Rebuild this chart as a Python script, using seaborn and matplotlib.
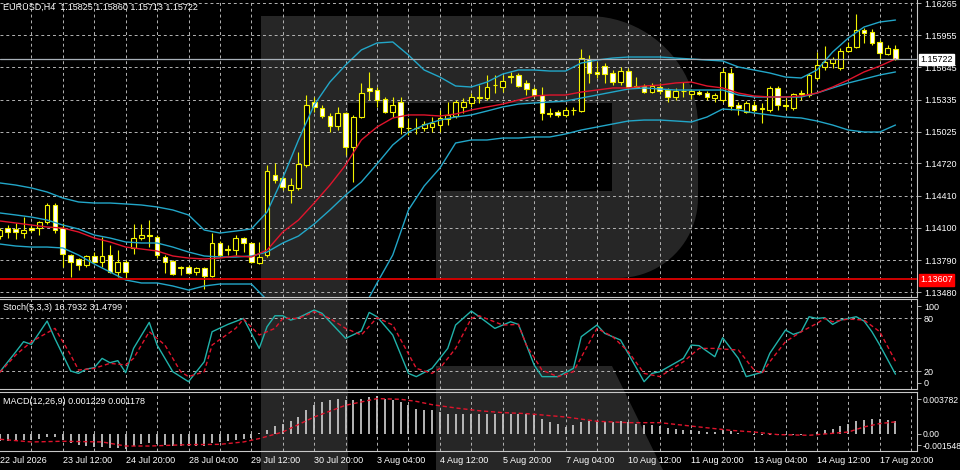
import numpy as np
import pandas as pd
import seaborn as sns
import matplotlib.pyplot as plt
from matplotlib.patches import Polygon

# ---------------- data ----------------
price_ticks = [1.16265, 1.15955, 1.15645, 1.15335, 1.15025, 1.14720, 1.14410, 1.14100, 1.13790, 1.13480]
x_labels = ['22 Jul 2026', '23 Jul 12:00', '24 Jul 20:00', '28 Jul 04:00', '29 Jul 12:00',
            '30 Jul 20:00', '3 Aug 04:00', '4 Aug 12:00', '5 Aug 20:00', '7 Aug 04:00',
            '10 Aug 12:00', '11 Aug 20:00', '13 Aug 04:00', '14 Aug 12:00', '17 Aug 20:00']

opens = [1.14021, 1.14098, 1.14089, 1.14050, 1.14098, 1.14098, 1.14156, 1.14320, 1.14098, 1.13838,
         1.13800, 1.13742, 1.13829, 1.13771, 1.13838, 1.13675, 1.13771, 1.13906, 1.14002, 1.14031,
         1.14012, 1.13819, 1.13781, 1.13713, 1.13723, 1.13675, 1.13713, 1.13636, 1.13954, 1.13896,
         1.13886, 1.14002, 1.13954, 1.13761, 1.13838, 1.14609, 1.14580, 1.14464, 1.14484, 1.14705,
         1.15312, 1.15254, 1.15177, 1.15081, 1.15206, 1.14878, 1.15167, 1.15447, 1.15427, 1.15341,
         1.15215, 1.15312, 1.15061, 1.15061, 1.15061, 1.15071, 1.15090, 1.15148, 1.15177, 1.15264,
         1.15302, 1.15360, 1.15350, 1.15475, 1.15456, 1.15562, 1.15572, 1.15495, 1.15437, 1.15379,
         1.15206, 1.15215, 1.15187, 1.15235, 1.15225, 1.15726, 1.15601, 1.15658, 1.15591, 1.15504,
         1.15610, 1.15466, 1.15466, 1.15408, 1.15456, 1.15427, 1.15360, 1.15418, 1.15389, 1.15408,
         1.15398, 1.15350, 1.15331, 1.15591, 1.15283, 1.15215, 1.15283, 1.15254, 1.15235, 1.15447,
         1.15283, 1.15254, 1.15389, 1.15379, 1.15543, 1.15649, 1.15687, 1.15639, 1.15803, 1.15841,
         1.16005, 1.15986, 1.15890, 1.15774, 1.15825]
highs = [1.14098, 1.14127, 1.14147, 1.14204, 1.14118, 1.14166, 1.14339, 1.14339, 1.14147, 1.13848,
         1.13809, 1.13838, 1.13867, 1.14012, 1.13935, 1.13886, 1.13790, 1.14137, 1.14137, 1.14175,
         1.14031, 1.13838, 1.13790, 1.13732, 1.13742, 1.13723, 1.13723, 1.14050, 1.13973, 1.13935,
         1.14031, 1.14012, 1.13964, 1.13964, 1.14705, 1.14724, 1.14609, 1.14580, 1.14830, 1.15379,
         1.15360, 1.15283, 1.15206, 1.15264, 1.15215, 1.15187, 1.15495, 1.15601, 1.15456, 1.15360,
         1.15360, 1.15360, 1.15158, 1.15158, 1.15129, 1.15167, 1.15235, 1.15312, 1.15331, 1.15350,
         1.15398, 1.15475, 1.15572, 1.15572, 1.15572, 1.15601, 1.15591, 1.15524, 1.15456, 1.15456,
         1.15254, 1.15235, 1.15264, 1.15264, 1.15822, 1.15764, 1.15697, 1.15687, 1.15620, 1.15649,
         1.15639, 1.15552, 1.15485, 1.15495, 1.15495, 1.15447, 1.15447, 1.15504, 1.15437, 1.15427,
         1.15418, 1.15398, 1.15639, 1.15639, 1.15312, 1.15321, 1.15321, 1.15302, 1.15466, 1.15466,
         1.15350, 1.15398, 1.15427, 1.15591, 1.15793, 1.15851, 1.15745, 1.15832, 1.15890, 1.16159,
         1.16024, 1.16015, 1.15909, 1.15861, 1.15860]
lows = [1.13992, 1.14002, 1.13992, 1.14002, 1.14060, 1.14031, 1.14137, 1.14050, 1.13723, 1.13626,
        1.13694, 1.13723, 1.13761, 1.13723, 1.13665, 1.13626, 1.13617, 1.13848, 1.13983, 1.13915,
        1.13809, 1.13665, 1.13646, 1.13646, 1.13655, 1.13646, 1.13511, 1.13626, 1.13819, 1.13838,
        1.13838, 1.13867, 1.13761, 1.13752, 1.13819, 1.14532, 1.14464, 1.14339, 1.14464, 1.14686,
        1.15215, 1.15158, 1.15023, 1.15042, 1.14801, 1.14541, 1.15158, 1.15331, 1.15264, 1.15206,
        1.15167, 1.15004, 1.14994, 1.15004, 1.15032, 1.15023, 1.15023, 1.15090, 1.15158, 1.15206,
        1.15264, 1.15302, 1.15331, 1.15398, 1.15408, 1.15495, 1.15456, 1.15379, 1.15360, 1.15138,
        1.15167, 1.15167, 1.15167, 1.15187, 1.15215, 1.15495, 1.15543, 1.15495, 1.15475, 1.15475,
        1.15437, 1.15447, 1.15398, 1.15398, 1.15389, 1.15312, 1.15331, 1.15360, 1.15341, 1.15379,
        1.15331, 1.15312, 1.15312, 1.15235, 1.15187, 1.15206, 1.15215, 1.15110, 1.15215, 1.15235,
        1.15235, 1.15235, 1.15331, 1.15360, 1.15524, 1.15620, 1.15639, 1.15620, 1.15793, 1.15832,
        1.15880, 1.15861, 1.15716, 1.15764, 1.15713]
closes = [1.14079, 1.14060, 1.14060, 1.14079, 1.14079, 1.14156, 1.14320, 1.14079, 1.13848, 1.13771,
          1.13742, 1.13829, 1.13771, 1.13829, 1.13675, 1.13771, 1.13675, 1.14002, 1.14031, 1.14021,
          1.13838, 1.13771, 1.13655, 1.13723, 1.13665, 1.13713, 1.13636, 1.13954, 1.13838, 1.13886,
          1.14002, 1.13954, 1.13771, 1.13819, 1.14647, 1.14561, 1.14493, 1.14512, 1.14715, 1.15283,
          1.15264, 1.15177, 1.15081, 1.15206, 1.14878, 1.15167, 1.15398, 1.15418, 1.15331, 1.15215,
          1.15283, 1.15071, 1.15066, 1.15057, 1.15100, 1.15110, 1.15158, 1.15187, 1.15312, 1.15312,
          1.15360, 1.15355, 1.15456, 1.15471, 1.15514, 1.15557, 1.15466, 1.15437, 1.15379, 1.15206,
          1.15201, 1.15187, 1.15235, 1.15230, 1.15735, 1.15591, 1.15581, 1.15581, 1.15504, 1.15610,
          1.15456, 1.15461, 1.15408, 1.15466, 1.15418, 1.15360, 1.15418, 1.15413, 1.15418, 1.15389,
          1.15360, 1.15379, 1.15601, 1.15273, 1.15254, 1.15302, 1.15235, 1.15249, 1.15447, 1.15283,
          1.15278, 1.15389, 1.15398, 1.15572, 1.15668, 1.15697, 1.15726, 1.15803, 1.15841, 1.16005,
          1.15976, 1.15880, 1.15784, 1.15832, 1.15722]

# bollinger bands + red MA, read at every second bar
band_bars = list(range(0, 115, 2))
bb_upper = [1.14532, 1.14512, 1.14484, 1.14445, 1.14387, 1.14349, 1.14339, 1.14339, 1.14330, 1.14320,
            1.14301, 1.14272, 1.14224, 1.14079, 1.14050, 1.14069, 1.14089, 1.14252, 1.14580, 1.14946,
            1.15283, 1.15504, 1.15668, 1.15813, 1.15880, 1.15890, 1.15764, 1.15620, 1.15552, 1.15466,
            1.15456, 1.15504, 1.15581, 1.15620, 1.15620, 1.15610, 1.15610, 1.15687, 1.15716, 1.15735,
            1.15745, 1.15745, 1.15745, 1.15735, 1.15726, 1.15716, 1.15707, 1.15649, 1.15620, 1.15591,
            1.15552, 1.15543, 1.15620, 1.15793, 1.15928, 1.16034, 1.16082, 1.16101]
bb_middle = [1.14243, 1.14224, 1.14204, 1.14175, 1.14127, 1.14089, 1.14031, 1.14002, 1.13964, 1.13954,
             1.13954, 1.13915, 1.13867, 1.13829, 1.13819, 1.13819, 1.13829, 1.13867, 1.13954, 1.14021,
             1.14137, 1.14272, 1.14416, 1.14541, 1.14715, 1.14898, 1.15023, 1.15090, 1.15138, 1.15167,
             1.15187, 1.15225, 1.15264, 1.15292, 1.15302, 1.15312, 1.15321, 1.15350, 1.15379, 1.15408,
             1.15437, 1.15447, 1.15437, 1.15427, 1.15427, 1.15427, 1.15427, 1.15379, 1.15360, 1.15360,
             1.15360, 1.15360, 1.15398, 1.15447, 1.15495, 1.15533, 1.15572, 1.15601]
bb_lower = [1.13944, 1.13925, 1.13915, 1.13915, 1.13906, 1.13838, 1.13752, 1.13675, 1.13598, 1.13569,
            1.13569, 1.13540, 1.13501, 1.13540, 1.13559, 1.13559, 1.13559, 1.13405, 1.13232, 1.13097,
            1.13001, 1.13001, 1.13068, 1.13290, 1.13569, 1.13838, 1.14272, 1.14503, 1.14675, 1.14917,
            1.14946, 1.14946, 1.14965, 1.14965, 1.14975, 1.14975, 1.15004, 1.15042, 1.15071, 1.15100,
            1.15129, 1.15138, 1.15138, 1.15129, 1.15119, 1.15167, 1.15244, 1.15235, 1.15206, 1.15187,
            1.15167, 1.15158, 1.15129, 1.15090, 1.15042, 1.15023, 1.15023, 1.15090]
ma_red = [1.14166, 1.14147, 1.14127, 1.14108, 1.14098, 1.14060, 1.14002, 1.13964, 1.13915, 1.13896,
          1.13877, 1.13829, 1.13809, 1.13800, 1.13809, 1.13829, 1.13819, 1.13886, 1.14060, 1.14175,
          1.14339, 1.14512, 1.14705, 1.14946, 1.15071, 1.15158, 1.15187, 1.15187, 1.15177, 1.15196,
          1.15235, 1.15264, 1.15292, 1.15331, 1.15370, 1.15379, 1.15379, 1.15408, 1.15427, 1.15447,
          1.15447, 1.15466, 1.15475, 1.15495, 1.15504, 1.15466, 1.15447, 1.15398, 1.15370, 1.15360,
          1.15360, 1.15370, 1.15398, 1.15456, 1.15524, 1.15601, 1.15658, 1.15726]

bid_price = 1.15722
hline_price = 1.13607

# stochastic (5,3,3)
stoch_bars = [0, 2, 3, 4, 6, 7, 9, 10, 11, 12, 13, 14, 15, 16, 17, 19, 20, 22, 24, 26,
              27, 29, 31, 33, 34, 35, 36, 37, 38, 40, 41, 42, 44, 46, 47, 48, 50, 52, 53, 55,
              57, 58, 60, 61, 63, 65, 66, 68, 69, 71, 73, 74, 76, 77, 79, 82, 83, 84, 87, 88,
              89, 91, 92, 94, 95, 97, 98, 100, 101, 102, 103, 104, 105, 106, 107, 109, 110, 111, 112, 114]
stoch_main = [19.6, 42, 53.6, 50.6, 77, 57, 20.4, 17.7, 22.6, 24.2, 34.7, 29.8, 32.1, 18.5, 46, 75.5, 49.8, 19.6, 8.3, 30.9,
              64.9, 73.2, 80, 46, 70.6, 83, 83, 78.1, 80.8, 89.5, 85.7, 76.2, 57.4, 65.7, 86.8, 81.9, 61.2, 17.7, 14, 23.4,
              46, 72.5, 88.3, 82, 68.7, 76.2, 73.2, 27.2, 14, 14, 23.4, 59.3, 72.5, 63, 55.5, 8.3, 17.7, 19.6, 34.7, 49.8,
              49.1, 36.6, 58.1, 34.7, 14, 18.9, 40.4, 66.8, 61.9, 64.9, 81.9, 80, 80.8, 73.2, 78.1, 81.9, 77, 64.9, 49.8, 16.8]
sig_bars = [0, 2, 4, 7, 9, 10, 12, 14, 16, 17, 19, 21, 23, 24, 26, 27, 30, 31, 33, 35,
            36, 38, 40, 42, 44, 46, 48, 50, 53, 55, 56, 58, 60, 61, 64, 66, 67, 69, 71, 73,
            76, 78, 80, 82, 84, 87, 89, 91, 92, 94, 96, 97, 98, 100, 102, 104, 105, 106, 108, 110, 112, 114]
stoch_signal = [18.9, 38.5, 53.6, 68.7, 38.5, 21.5, 23.4, 29.1, 27.2, 34.7, 64.9, 49.8, 19.6, 14, 19.6, 49.8, 68.7, 79.3, 61.2, 68.7,
                80, 80, 87.6, 80, 68.7, 61.2, 80.8, 72.5, 23.4, 17.7, 23.4, 46, 80, 83, 72.5, 73.2, 49.8, 21.5, 14, 19.6,
                68.7, 59.3, 42.3, 17.7, 14, 30.9, 46, 46, 45.3, 44.2, 21.5, 17.7, 30.9, 53.6, 64.9, 74.4, 80, 76.2, 79.3, 78.1, 64.9, 31.5]

# MACD (12,26,9)
macd_hist = [-0.0007, -0.0007, -0.0007, -0.0006, -0.0006, -0.0005, -0.0003, -0.0003, -0.0006, -0.0009,
             -0.0011, -0.0012, -0.0013, -0.0013, -0.0014, -0.0014, -0.0015, -0.0012, -0.0010, -0.0009,
             -0.0010, -0.0011, -0.0012, -0.0012, -0.0012, -0.0012, -0.0012, -0.0009, -0.0008, -0.0007,
             -0.0006, -0.0005, -0.0004, 0.0001, 0.00033, 0.00076, 0.00101, 0.00124, 0.00167, 0.00234,
             0.00285, 0.00318, 0.00335, 0.00352, 0.00335, 0.00335, 0.00352, 0.00368, 0.00378, 0.00352,
             0.00335, 0.00318, 0.00285, 0.00252, 0.00234, 0.00234, 0.00217, 0.00201, 0.00201, 0.00201,
             0.00201, 0.00201, 0.00201, 0.00201, 0.00201, 0.00201, 0.00201, 0.00195, 0.00184, 0.00144,
             0.00117, 0.00101, 0.00067, 0.00084, 0.00117, 0.00124, 0.00124, 0.00117, 0.00117, 0.00124,
             0.00117, 0.00101, 0.00084, 0.00084, 0.00076, 0.00056, 0.00050, 0.00040, 0.00033, 0.00023,
             0.00016, 0.00016, 0.00033, 0.00023, 0.00010, 0.0, -0.0001, -0.00017, -0.0001, -0.0001,
             -0.00017, -0.00017, -0.0001, 0.0, 0.00016, 0.00040, 0.00050, 0.00076, 0.00101, 0.00124,
             0.00141, 0.00151, 0.00151, 0.00134, 0.00123]
msig_bars = [0, 4, 8, 13, 16, 19, 24, 28, 31, 33, 36, 40, 44, 48, 51, 53, 55, 58, 61, 64,
             67, 72, 76, 80, 84, 89, 93, 96, 99, 103, 108, 110, 112, 114]
macd_signal = [-0.00057, -0.00084, -0.00077, -0.00084, -0.00125, -0.00125, -0.00111, -0.00108, -0.00084, -0.00050,
               0.00016, 0.00167, 0.00285, 0.00352, 0.00345, 0.00324, 0.00291, 0.00258, 0.00230, 0.00211,
               0.00201, 0.00167, 0.00124, 0.00110, 0.00110, 0.00067, 0.00033, 0.00016, -0.00010, -0.00017,
               0.00016, 0.00067, 0.00101, 0.00118]

# ---------------- style ----------------
YELLOW = '#f2f200'
BAND = '#22a6c8'
RED = '#e0142c'
GRID = '#b4b4b4'
FRAME = '#c8c8c8'
FS = 6.5

sns.set_theme(style='dark', rc={'axes.facecolor': 'none', 'figure.facecolor': 'black'})
plt.rcParams['font.family'] = ['Liberation Sans', 'DejaVu Sans']

W, H = 960, 470
fig = plt.figure(figsize=(9.6, 4.7), dpi=100, facecolor='black')

# big grey "R" logo in the background
bg = fig.add_axes([0, 0, 1, 1])
bg.set_xlim(0, W)
bg.set_ylim(H, 0)
bg.axis('off')


def arc(cx, cy, r, a0, a1, n=24):
    t = np.radians(np.linspace(a0, a1, n))
    return [(cx + r * np.cos(a), cy - r * np.sin(a)) for a in t]


bowl = [(261, 16)] + arc(588, 126, 110, 90, 0) + arc(618, 198, 80, 0, -90) + \
       [(436, 278), (436, 191), (612, 191), (612, 103), (348, 103), (348, 470), (261, 470)]
leg = [(436, 366), (612, 366), (663, 470), (436, 470)]
for pts in (bowl, leg):
    bg.add_patch(Polygon(pts, closed=True, fc='#262626', ec='none'))

xmax = 917 / 7.855
ax = fig.add_axes([0, 173 / H, 917 / W, 297 / H], facecolor='none')
ax_st = fig.add_axes([0, 81 / H, 917 / W, 90 / H], facecolor='none')
ax_m = fig.add_axes([0, 19 / H, 917 / W, 59 / H], facecolor='none')

grid_bars = list(range(0, 117, 4))
for a in (ax, ax_st, ax_m):
    a.set_xlim(0, xmax)
    a.set_xticks(grid_bars)
    a.grid(False)
    for b in grid_bars[1:]:
        a.axvline(b, color=GRID, lw=0.7, ls=(0, (3, 3)), zorder=1)
    for side in ('left', 'top'):
        a.spines[side].set_visible(False)
    for side in ('right', 'bottom'):
        a.spines[side].set_color(FRAME)
        a.spines[side].set_linewidth(0.8)
    a.yaxis.tick_right()
    a.tick_params(axis='y', colors=FRAME, labelcolor='white', labelsize=FS, length=3, width=0.6, pad=2)
    a.tick_params(axis='x', length=0, labelbottom=False)
for a in (ax_st, ax_m):
    a.spines['top'].set_visible(True)
    a.spines['top'].set_color(FRAME)
    a.spines['top'].set_linewidth(0.8)

# ---------------- price pane ----------------
ax.set_ylim(1.13434, 1.16294)
for p in price_ticks:
    ax.axhline(p, color=GRID, lw=0.7, ls=(0, (3, 3)), zorder=1)
ax.set_yticks(price_ticks)
ax.set_yticklabels([f'{p:.5f}' for p in price_ticks])

df = pd.DataFrame({'open': opens, 'high': highs, 'low': lows, 'close': closes})
df['bar'] = np.arange(len(df))
up = df['close'] >= df['open']
body_low = df[['open', 'close']].min(axis=1)
body_h = (df['close'] - df['open']).abs().clip(lower=0.00001)
ax.vlines(df['bar'], df['low'], df['high'], color=YELLOW, lw=0.8, zorder=3)
ax.bar(df['bar'], body_h, bottom=body_low, width=0.6,
       color=np.where(up, 'black', 'white'), edgecolor=YELLOW, linewidth=0.8, zorder=4)

for series, col in ((bb_upper, BAND), (bb_middle, BAND), (bb_lower, BAND), (ma_red, RED)):
    sns.lineplot(x=band_bars, y=series, ax=ax, color=col, linewidth=1.0, zorder=5)

ax.axhline(bid_price, color='#a8b0b8', lw=0.9, zorder=6)
ax.axhline(hline_price, color='#e00000', lw=1.3, zorder=6)
ax.set_xlabel('')
ax.set_ylabel('')

# ---------------- stochastic pane ----------------
ax_st.set_ylim(0, 102)
for lv in (80, 20):
    ax_st.axhline(lv, color=GRID, lw=0.7, ls=(0, (3, 3)), zorder=1)
ax_st.set_yticks([94, 80, 20, 6.8])
ax_st.set_yticklabels(['100', '80', '20', '0'])
sns.lineplot(x=stoch_bars, y=stoch_main, ax=ax_st, color='#20b2aa', linewidth=1.0, zorder=4)
sns.lineplot(x=sig_bars, y=stoch_signal, ax=ax_st, color=RED, linewidth=1.0,
             linestyle=(0, (3, 2)), zorder=5)
ax_st.set_xlabel('')
ax_st.set_ylabel('')

# ---------------- MACD pane ----------------
ax_m.set_ylim(-0.00175, 0.004184)
ax_m.vlines(np.arange(len(macd_hist)), 0, macd_hist, color='#c4c4c4', lw=1.3, zorder=3)
sns.lineplot(x=msig_bars, y=macd_signal, ax=ax_m, color=RED, linewidth=1.0,
             linestyle=(0, (3, 2)), zorder=5)
ax_m.set_yticks([0.00347, 0.0, -0.00116])
ax_m.set_yticklabels(['0.003782', '0.00', '-0.001548'])
ax_m.tick_params(axis='y', pad=1, labelsize=6.2)
ax_m.set_xticks(grid_bars)
ax_m.set_xticklabels([x_labels[i // 2] if i % 2 == 0 and i // 2 < len(x_labels) else ''
                      for i in range(len(grid_bars))])
ax_m.tick_params(axis='x', labelbottom=True, labelsize=FS, labelcolor='white', pad=3.5)
for lbl in ax_m.get_xticklabels():
    lbl.set_ha('left')
ax_m.set_xlabel('')
ax_m.set_ylabel('')

# ---------------- texts ----------------
def px(x, y):
    return x / W, 1 - y / H


fig.text(*px(3, 7), 'EURUSD,H4  1.15825 1.15860 1.15713 1.15722', color='white', fontsize=FS, va='center')
fig.text(*px(3, 308), 'Stoch(5,3,3) 16.7932 31.4799', color='white', fontsize=FS, va='center')
fig.text(*px(3, 401), 'MACD(12,26,9) 0.001229 0.001178', color='white', fontsize=FS, va='center')
fig.text(*px(920, 59.4), f'{bid_price:.5f}', color='black', fontsize=FS, va='center',
         bbox=dict(boxstyle='square,pad=0.15', fc='white', ec='white'))
fig.text(*px(920, 280), f'{hline_price:.5f}', color='white', fontsize=FS, va='center',
         bbox=dict(boxstyle='square,pad=0.15', fc='#ff0000', ec='#ff0000'))

fig.savefig('out.png', dpi=100, facecolor='black')
